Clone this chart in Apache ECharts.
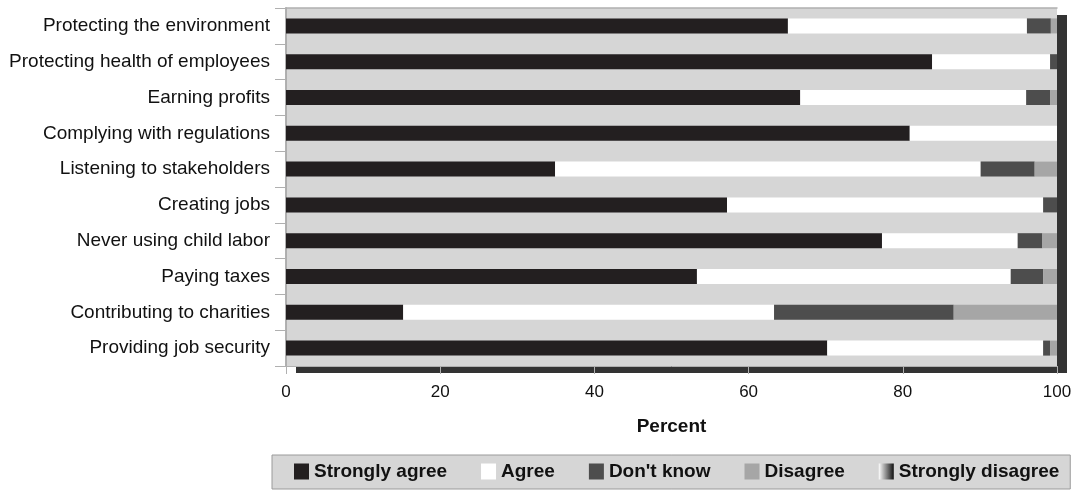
<!DOCTYPE html>
<html>
<head>
<meta charset="utf-8">
<script src="https://cdn.jsdelivr.net/npm/echarts@6/dist/echarts.min.js"></script>
<style>
  html, body { margin: 0; padding: 0; background: #ffffff; }
  #chart { width: 1080px; height: 491px; }
</style>
</head>
<body>
<div id="chart"></div>
<script>
// Views on corporate responsibilities, percent of respondents
const categories = [
  'Protecting the environment',
  'Protecting health of employees',
  'Earning profits',
  'Complying with regulations',
  'Listening to stakeholders',
  'Creating jobs',
  'Never using child labor',
  'Paying taxes',
  'Contributing to charities',
  'Providing job security'
];
const stronglyAgree    = [65.1, 83.8, 66.7, 80.9, 34.9, 57.2, 77.3, 53.3, 15.2, 70.2];
const agree            = [31.0, 15.3, 29.3, 19.1, 55.2, 41.0, 17.6, 40.7, 48.1, 28.0];
const dontKnow         = [3.1, 0.9, 3.1, 0.0, 7.0, 1.8, 3.2, 4.2, 23.3, 0.9];
const disagree         = [0.8, 0.0, 0.9, 0.0, 2.9, 0.0, 1.9, 1.8, 13.4, 0.9];
const stronglyDisagree = [0, 0, 0, 0, 0, 0, 0, 0, 0, 0];
const xTicks = [0, 20, 40, 60, 80, 100];

const labelFont = "'Liberation Sans', Arial, sans-serif";
const frameColor = '#b0b0b0';

function barSeries(name, data, color) {
  return {
    name: name,
    type: 'bar',
    stack: 'total',
    data: data,
    barWidth: 15,
    itemStyle: { color: color },
    emphasis: { disabled: true }
  };
}

const chart = echarts.init(document.getElementById('chart'), null, { renderer: 'canvas' });
chart.setOption({
  animation: false,
  backgroundColor: '#ffffff',
  grid: {
    show: true,
    left: 286,
    right: 23,
    top: 8,
    bottom: 125,
    backgroundColor: '#d6d6d6',
    borderWidth: 0,
    shadowColor: '#333333',
    shadowBlur: 0,
    shadowOffsetX: 10,
    shadowOffsetY: 7
  },
  legend: {
    top: 455,
    left: 272,
    data: ['Strongly agree', 'Agree', "Don't know", 'Disagree', 'Strongly disagree'],
    icon: 'rect',
    itemWidth: 15,
    itemHeight: 16,
    itemGap: 34,
    padding: [7, 11, 8, 22],
    backgroundColor: '#d6d6d6',
    borderColor: '#9a9a9a',
    borderWidth: 1,
    borderRadius: 0,
    textStyle: {
      fontFamily: labelFont,
      fontWeight: 'bold',
      fontSize: 19,
      color: '#111111'
    },
    selectedMode: false
  },
  xAxis: [{
    type: 'value',
    min: 0,
    max: 100,
    interval: 20,
    name: 'Percent',
    nameLocation: 'middle',
    nameGap: 51,
    nameTextStyle: {
      fontFamily: labelFont,
      fontWeight: 'bold',
      fontSize: 19,
      color: '#111111'
    },
    axisLine: { show: true, lineStyle: { color: frameColor, width: 1 } },
    axisTick: { show: true, length: 8, lineStyle: { color: frameColor } },
    splitLine: { show: false },
    axisLabel: {
      fontFamily: labelFont,
      fontSize: 17,
      color: '#111111',
      margin: 18,
      formatter: function (v) { return xTicks.indexOf(v) >= 0 ? String(v) : ''; }
    }
  }, {
    // top edge of the plot frame
    type: 'value',
    position: 'top',
    min: 0,
    max: 100,
    axisLine: { show: true, lineStyle: { color: frameColor, width: 1.5 } },
    axisTick: { show: false },
    axisLabel: { show: false },
    splitLine: { show: false }
  }],
  yAxis: [{
    type: 'category',
    inverse: true,
    data: categories,
    axisLine: { show: true, lineStyle: { color: '#9a9a9a', width: 1.5 } },
    axisTick: { show: true, length: 11, lineStyle: { color: frameColor } },
    axisLabel: {
      fontFamily: labelFont,
      fontSize: 19,
      color: '#111111',
      margin: 16
    }
  }, {
    // right edge of the plot frame
    type: 'category',
    position: 'right',
    inverse: true,
    data: categories,
    axisLine: { show: true, lineStyle: { color: frameColor, width: 1.5 } },
    axisTick: { show: false },
    axisLabel: { show: false }
  }],
  series: [
    barSeries('Strongly agree', stronglyAgree, '#231f20'),
    barSeries('Agree', agree, '#ffffff'),
    barSeries("Don't know", dontKnow, '#4d4d4d'),
    barSeries('Disagree', disagree, '#a6a6a6'),
    barSeries('Strongly disagree', stronglyDisagree, {
      type: 'linear', x: 0, y: 0, x2: 1, y2: 0,
      colorStops: [
        { offset: 0, color: '#ffffff' },
        { offset: 1, color: '#111111' }
      ]
    })
  ]
});
</script>
</body>
</html>
